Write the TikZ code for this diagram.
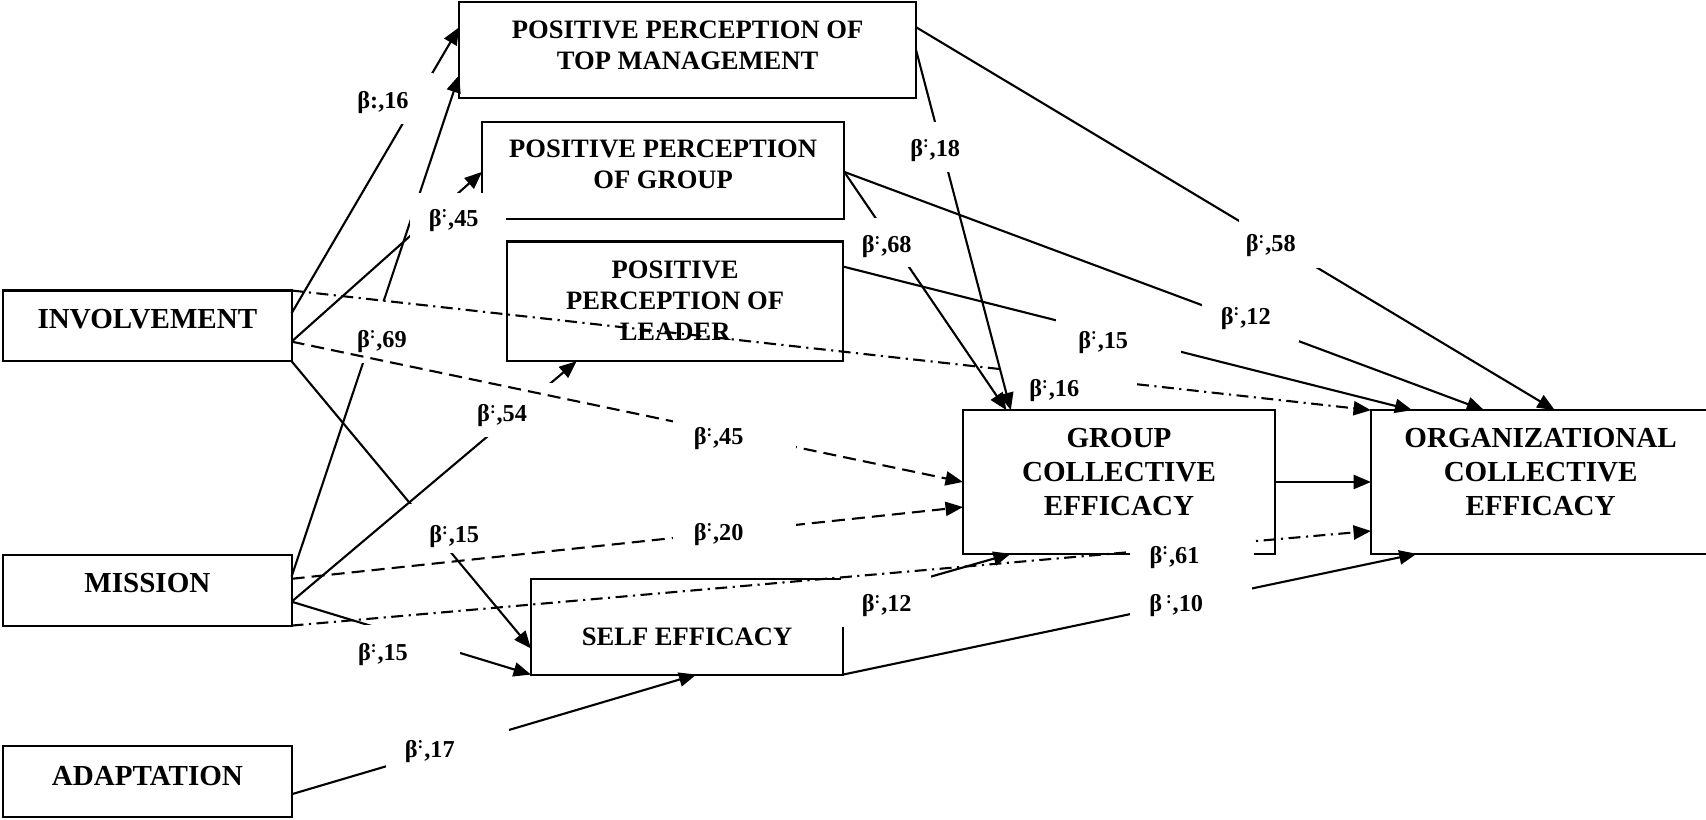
\documentclass[tikz,border=0pt]{standalone}
\usepackage{fontspec}
\setmainfont{Liberation Serif}
\usetikzlibrary{arrows.meta,calc}

% centred multi-line box text, shifted vertically without changing its size
\newcommand\boxtext[2]{\raisebox{#1}[\height][\depth]{\begin{tabular}{@{}c@{}}#2\end{tabular}}}
% beta with raised colon
\newcommand\bq{β\textsuperscript{:}}

\tikzset{
  blk/.style={draw, line width=1.1pt, inner sep=0pt, outer sep=0pt,
    font=\bfseries\fontsize{15.2}{17.8}\selectfont},
  blks/.style={blk, font=\bfseries\fontsize{13.9}{16.4}\selectfont},
  link/.style={line width=1.1pt, -{Triangle[length=0.32cm,width=0.26cm]}},
  dsh/.style={link, dash pattern=on 0.24cm off 0.13cm},
  dshdot/.style={link, dash pattern=on 0.22cm off 0.1cm on 0.04cm off 0.1cm},
  coef/.style={inner sep=0pt, font=\bfseries\fontsize{12.7}{14}\selectfont,
    text height=8.5pt, text depth=0pt},
  mask/.style={fill=white}
}

\begin{document}
\begin{tikzpicture}[x=0.02cm, y=-0.02cm]
\useasboundingbox (0,0) rectangle (1568,753);

% ---- boxes ----
\node[blks, minimum width=8.4cm,  minimum height=1.76cm] (top) at (632,46)
  {\boxtext{0.046cm}{POSITIVE PERCEPTION OF\\TOP MANAGEMENT}};
\node[blks, minimum width=6.66cm, minimum height=1.78cm] (grp) at (609.5,156.5)
  {\boxtext{0.064cm}{POSITIVE PERCEPTION\\OF GROUP}};
\node[blks, minimum width=6.18cm, minimum height=2.2cm]  (ldr) at (620.5,277)
  {\boxtext{-0.034cm}{POSITIVE\\PERCEPTION OF\\LEADER}};
\node[blk,  minimum width=5.74cm, minimum height=2.64cm] (gce) at (1028.5,443)
  {\boxtext{0.128cm}{GROUP\\COLLECTIVE\\EFFICACY}};
\node[blk,  minimum width=6.24cm, minimum height=2.64cm] (oce) at (1416,443)
  {\boxtext{0.128cm}{ORGANIZATIONAL\\COLLECTIVE\\EFFICACY}};
\node[blk,  minimum width=5.3cm,  minimum height=1.3cm]  (inv) at (135.5,299.5)
  {\boxtext{0.068cm}{INVOLVEMENT}};
\node[blk,  minimum width=5.3cm,  minimum height=1.3cm]  (mis) at (135.5,542.5)
  {\boxtext{0.076cm}{MISSION}};
\node[blk,  minimum width=5.3cm,  minimum height=1.3cm]  (ada) at (135.5,718.5)
  {\boxtext{0.056cm}{ADAPTATION}};
\node[blks, minimum width=5.74cm, minimum height=1.76cm] (se)  at (631.5,576)
  {\boxtext{-0.23cm}{SELF EFFICACY}};

% ---- paths, first layer ----
\draw[link] ($(inv.north east)+(0,21)$) -- ($(top.north west)+(0,23)$);
\draw[link] ($(inv.north east)+(0,47)$) -- ($(grp.north west)+(0,46)$);
\draw[link] ($(mis.north east)+(0,20)$) -- ($(top.north west)+(0,67)$);
\draw[link] (inv.south east) -- ($(se.north west)+(0,64)$);
\draw[link] ($(mis.north east)+(0,43)$) -- ($(ldr.south west)+(64,0)$);
\draw[dsh]  ($(mis.north east)+(0,22)$) -- ($(gce.north west)+(0,89)$);
\draw[link] ($(mis.north east)+(0,43)$) -- (se.south west);
\draw[link] ($(ada.north east)+(0,44)$) -- ($(se.south west)+(152,0)$);
\draw[link] ($(grp.north east)+(0,46)$) -- ($(oce.north west)+(104,0)$);
\draw[link] ($(ldr.north east)+(0,23)$) -- ($(oce.north west)+(38,0)$);
\draw[link] ($(top.north east)+(0,23)$) -- ($(oce.north west)+(169,0)$);
\draw[link] (gce.east) -- (oce.west);
\draw[link] ($(se.north east)+(0,21)$) -- ($(gce.south west)+(44,0)$);
\draw[link] (se.south east) -- ($(oce.south west)+(42,0)$);

% ---- coefficients, first layer ----
\fill[mask] (316,67) rectangle (398,114);   \node[coef] (cA) at (352,92)      {β:,16};
\fill[mask] (377,177) rectangle (465,223);  \node[coef] (cB) at (417,200.5)   {\bq,45};
\fill[mask] (322,277) rectangle (386,334);  \node[coef] (cC) at (351,311.5)   {\bq,69};
\fill[mask] (376,463) rectangle (468,508);  \node[coef] (cF) at (417.5,491)   {\bq,15};
\fill[mask] (432,352) rectangle (510,402);  \node[coef] (cG) at (461.5,380)   {\bq,54};
\fill[mask] (619,467) rectangle (732,513);  \node[coef] (cH) at (660.5,489)   {\bq,20};
\fill[mask] (330,574) rectangle (423,626);  \node[coef] (cI) at (352,600)     {\bq,15};
\fill[mask] (355,664) rectangle (468,712);  \node[coef] (cK) at (395,688.5)   {\bq,17};
\fill[mask] (1105,268) rectangle (1194,314);\node[coef] (cN) at (1145,290.5)  {\bq,12};
\fill[mask] (971,290) rectangle (1085,330); \node[coef] (cO) at (1014,312.5)  {\bq,15};
\fill[mask] (1139,199) rectangle (1215,246);\node[coef] (cP) at (1168,224)    {\bq,58};
\fill[mask] (773,528) rectangle (856,576);  \node[coef] (cR) at (815,555)     {\bq,12};
\fill[mask] (1039,535) rectangle (1151,580);\node[coef] (cS) at (1081,555)    {β\,\textsuperscript{:},10};

% ---- paths, second layer ----
\draw[dsh]    ($(inv.north east)+(0,47)$) -- ($(gce.north west)+(0,66)$);
\draw[dshdot] (inv.north east) -- (oce.north west);
\draw[dshdot] (mis.south east) -- ($(oce.north west)+(0,111)$);

\fill[mask] (619,378) rectangle (732,424);  \node[coef] (cD) at (660.5,401)   {\bq,45};
\fill[mask] (924,333) rectangle (1042,376); \node[coef] (cE) at (969,357)     {\bq,16};
\fill[mask] (1039,486) rectangle (1153,532);\node[coef] (cJ) at (1079.5,510)  {\bq,61};

% ---- paths, third layer ----
\draw[link] ($(top.north east)+(0,44)$) -- ($(gce.north west)+(44,0)$);
\draw[link] ($(grp.north east)+(0,46)$) -- ($(gce.north west)+(40,0)$);

\fill[mask] (835,112) rectangle (890,158);  \node[coef] (cL) at (859.5,136)   {\bq,18};
\fill[mask] (790,200) rectangle (850,245);  \node[coef] (cM) at (815,224.5)   {\bq,68};
\end{tikzpicture}
\end{document}
